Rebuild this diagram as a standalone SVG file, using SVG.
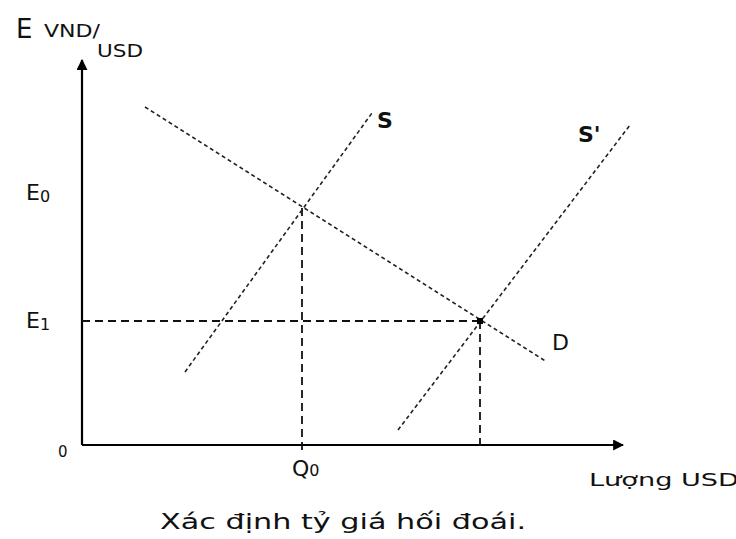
<svg xmlns="http://www.w3.org/2000/svg" width="736" height="539" viewBox="0 0 736 539">
<defs>
<marker id="arr" viewBox="0 0 10 10" refX="9" refY="5" markerWidth="11" markerHeight="11" markerUnits="userSpaceOnUse" orient="auto"><path d="M0,0 L10,5 L0,10 z" fill="#000"/></marker>
<style>
text{font-family:"DejaVu Sans","Liberation Sans",sans-serif;fill:#111}
.ax{stroke:#000;stroke-width:2.2;fill:none}
.crv{stroke:#222;stroke-width:1.6;stroke-dasharray:4 3;fill:none}
.guide{stroke:#111;stroke-width:1.8;stroke-dasharray:8 5;fill:none}
.lbl{font-size:22px}
</style>
</defs>
<rect width="736" height="539" fill="#fff"/>
<g id="connectors">
<line class="ax" x1="82" y1="445" x2="82" y2="60" marker-end="url(#arr)"/>
<line class="ax" x1="82" y1="445" x2="623" y2="445" marker-end="url(#arr)"/>
<line class="guide" x1="82" y1="321" x2="480" y2="321"/>
<line class="guide" x1="480" y1="321" x2="480" y2="450"/>
<line class="guide" x1="302" y1="208" x2="302" y2="450"/>
</g>
<g id="curve-D"><line class="crv" x1="145" y1="107" x2="547" y2="362"/><text class="lbl" x="552" y="350">D</text></g>
<g id="curve-S"><line class="crv" x1="185" y1="372" x2="372" y2="113"/><text class="lbl" x="377" y="128" font-weight="bold">S</text></g>
<g id="curve-S2"><line class="crv" x1="398" y1="430" x2="630" y2="125"/><text class="lbl" x="578" y="142" font-weight="bold">S'</text></g>
<g id="point-E1"><rect x="477" y="318" width="6" height="6" fill="#000"/></g>
<g id="labels">
<text x="16" y="38" font-size="26">E<tspan font-size="17" x="44" y="37" textLength="56" lengthAdjust="spacingAndGlyphs">VND/</tspan><tspan font-size="17" x="97" y="57" textLength="46" lengthAdjust="spacingAndGlyphs">USD</tspan></text>
<text x="26" y="200" font-size="22">E<tspan font-size="16" dy="2">0</tspan></text>
<text x="26" y="328" font-size="22">E<tspan font-size="16" dy="2">1</tspan></text>
<text x="58" y="457" font-size="15">0</text>
<text x="292" y="476" font-size="22">Q<tspan font-size="16">0</tspan></text>
<text x="589" y="486" font-size="18" textLength="150" lengthAdjust="spacingAndGlyphs">Lượng USD</text>
<text x="160" y="529" font-size="22" textLength="366" lengthAdjust="spacingAndGlyphs">Xác định tỷ giá hối đoái.</text>
</g>
</svg>
